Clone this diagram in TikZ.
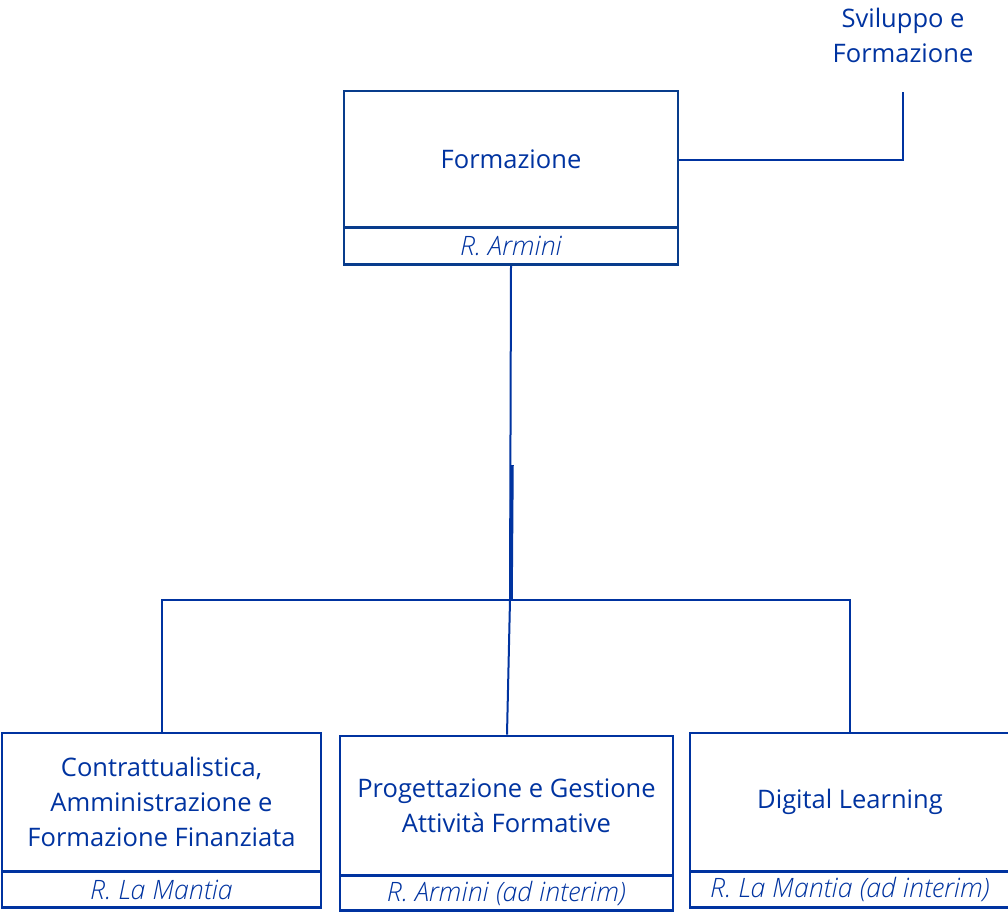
\documentclass[tikz,border=0pt]{standalone}
\usepackage{fontspec}
\setmainfont{Open Sans}
\newfontfamily\lightit{Open Sans Light Italic}
\definecolor{cblue}{RGB}{0,51,160}
\definecolor{cnavy}{RGB}{8,60,140}
\tikzset{
  unitbox/.style={draw=cblue, line width=2.7bp, rectangle, inner sep=0pt, align=center, text=cblue, font=\fontsize{25.6}{35}\selectfont},
  subbox/.style={draw=cblue, line width=2.7bp, rectangle, inner sep=0pt, align=center, text=cblue, font=\fontsize{26.8}{28}\selectfont\lightit},
  conn/.style={draw=cblue, line width=2bp},
  lbl/.style={text=cblue, align=center, font=\fontsize{25.6}{35}\selectfont, inner sep=0pt}
}
\begin{document}
\begin{tikzpicture}[x=1bp,y=-1bp]
\useasboundingbox (0,0) rectangle (1008,912);
\clip (0,0) rectangle (1008,912);
% top unit
\node[unitbox, draw=cnavy, minimum width=334bp, minimum height=137bp] (top) at (511,159.5) {Formazione};
\node[subbox, draw=cnavy, minimum width=334bp, minimum height=37bp] (topsub) at (511,246) {R. Armini};
% external label
\node[lbl] (ext) at (903,35) {Sviluppo e\\Formazione};
\coordinate (extend) at (903,92);
\draw[conn] (top.east) -- (top.east -| extend) -- (extend);
% bottom units
\node[unitbox, minimum width=319bp, minimum height=138bp] (a) at (161.5,802) {Contrattualistica,\\Amministrazione e\\Formazione Finanziata};
\node[subbox, minimum width=319bp, minimum height=36bp] (asub) at (161.5,889.5) {R. La Mantia};
\node[unitbox, minimum width=333bp, minimum height=139bp] (b) at (506.5,805.5) {Progettazione e Gestione\\Attività Formative};
\node[subbox, minimum width=333bp, minimum height=35bp] (bsub) at (506.5,893) {R. Armini (ad interim)};
\node[unitbox, minimum width=320bp, minimum height=138bp] (c) at (850,802) {Digital Learning};
\node[subbox, minimum width=320bp, minimum height=36bp] (csub) at (850,889.5) {R. La Mantia (ad interim)};
% connectors
\coordinate (j) at (510,600);
\coordinate (k) at (512,465);
\draw[conn] (topsub.south) -- (j);
\draw[conn, line width=3.5bp] (k) -- (511,600);
\draw[conn] (a.north) -- (a.north |- j) -- (c.north |- j) -- (c.north);
\draw[conn] (j) -- ([xshift=0.5bp]b.north);
\end{tikzpicture}
\end{document}
